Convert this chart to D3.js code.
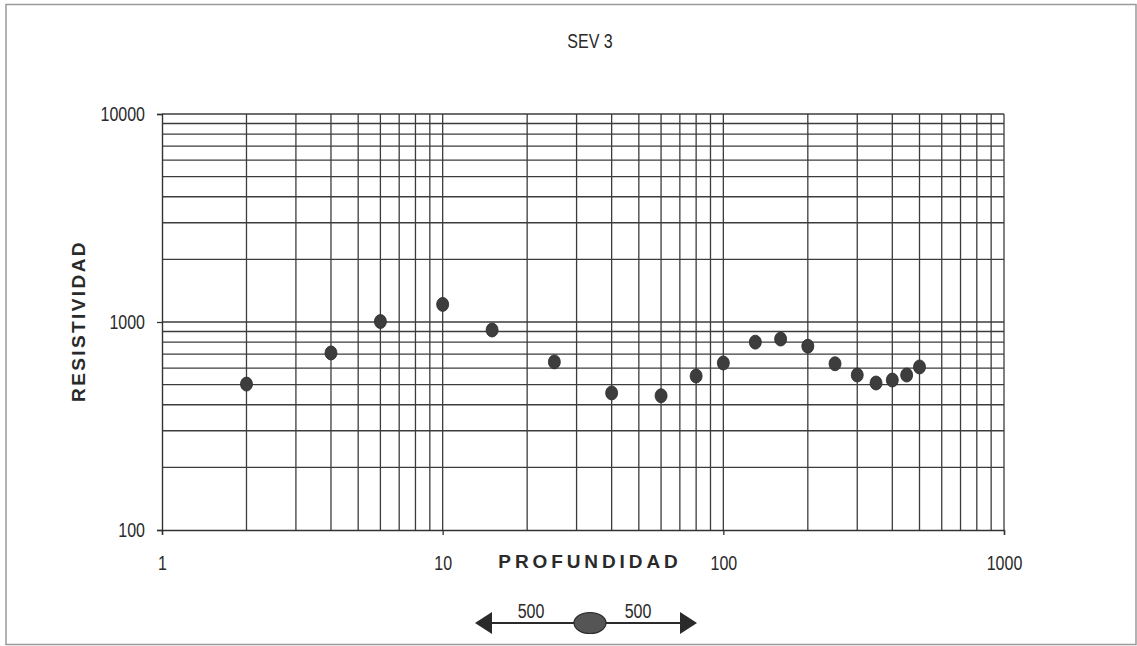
<!DOCTYPE html>
<html>
<head>
<meta charset="utf-8">
<script src="https://cdn.jsdelivr.net/npm/d3@7"></script>
<style>
  html, body { margin: 0; padding: 0; background: #fff; }
  svg { display: block; }
  text { fill: #2a2a2a; font-family: "Liberation Sans", Arial, sans-serif; }
  .bold { font-weight: bold; }
</style>
</head>
<body>
<svg id="chart" width="1137" height="646"></svg>
<script>
// Vertical electrical sounding SEV 3: apparent resistivity vs. depth
const depth = [2, 4, 6, 10, 15, 25, 40, 60, 80, 100, 130, 160, 200, 250, 300, 350, 400, 450, 500];
const resistivity = [503, 710, 1005, 1215, 915, 643, 456, 442, 550, 635, 800, 828, 765, 630, 556, 509, 526, 556, 608];

const xTickLabels = [1, 10, 100, 1000];
const yTickLabels = [100, 1000, 10000];
const spreadLabels = ["500", "500"];

const svg = d3.select("#chart");
const W = 1137, H = 646;
const plot = { left: 162, right: 1004, top: 114, bottom: 530 };
const NARROW = 0.8;   // horizontal squeeze for the condensed label face
const LABEL_PX = "20px";

// outer frame
svg.append("rect")
  .attr("x", 6).attr("y", 4.5).attr("width", W - 7).attr("height", 640)
  .attr("fill", "none").attr("stroke", "#9a9a9a").attr("stroke-width", 1.5);

const x = d3.scaleLog().domain([1, 1000]).range([plot.left, plot.right]);
const y = d3.scaleLog().domain([100, 10000]).range([plot.bottom, plot.top]);

// minor + major grid values (1..9 per decade)
const xGrid = [];
for (let d = 1; d < 1000; d *= 10) for (let k = 1; k <= 9; k++) xGrid.push(d * k);
xGrid.push(1000);
const yGrid = [];
for (let d = 100; d < 10000; d *= 10) for (let k = 1; k <= 9; k++) yGrid.push(d * k);
yGrid.push(10000);

const grid = svg.append("g").attr("stroke", "#3c3c3c").attr("stroke-width", 1.3);
grid.selectAll("line.v").data(xGrid.filter(v => v > 1)).join("line")
  .attr("x1", d => x(d)).attr("x2", d => x(d))
  .attr("y1", plot.top).attr("y2", plot.bottom);
grid.selectAll("line.h").data(yGrid.filter(v => v > 100)).join("line")
  .attr("x1", plot.left).attr("x2", plot.right)
  .attr("y1", d => y(d)).attr("y2", d => y(d));

// condensed text: squeeze horizontally while keeping the anchor point fixed
function narrowText(sel) {
  sel.each(function () {
    const t = d3.select(this);
    const tx = +t.attr("x") || 0;
    t.attr("x", tx / NARROW).attr("transform", `scale(${NARROW},1)`)
      .style("font-size", LABEL_PX);
  });
}

// axes
function styleAxis(g) {
  g.attr("font-size", null).attr("font-family", null);
  g.select(".domain").attr("stroke", "#333").attr("stroke-width", 1.4);
  g.selectAll(".tick line").attr("stroke", "#333").attr("stroke-width", 1.3);
  g.selectAll(".tick text").style("fill", "#2a2a2a").call(narrowText);
}
const xAxis = d3.axisBottom(x).tickValues(xTickLabels).tickFormat(d3.format("d"))
  .tickSize(5).tickPadding(21);
svg.append("g").attr("transform", `translate(0,${plot.bottom})`).call(xAxis).call(styleAxis);

const yAxis = d3.axisLeft(y).tickValues(yTickLabels).tickFormat(d3.format("d"))
  .tickSize(5).tickPadding(12);
svg.append("g").attr("transform", `translate(${plot.left},0)`).call(yAxis).call(styleAxis);

// data points
svg.append("g").selectAll("ellipse").data(depth).join("ellipse")
  .attr("cx", d => x(d))
  .attr("cy", (d, i) => y(resistivity[i]))
  .attr("rx", 6).attr("ry", 7)
  .attr("fill", "#3d3d3d").attr("stroke", "#2a2a2a").attr("stroke-width", 0.8);

// titles
svg.append("text").attr("x", 590).attr("y", 48)
  .attr("text-anchor", "middle").text("SEV 3").call(narrowText);

svg.append("text").attr("class", "bold").attr("x", 590).attr("y", 568)
  .attr("text-anchor", "middle").style("font-size", "19px").attr("letter-spacing", 3.9)
  .text("PROFUNDIDAD");

svg.append("text").attr("class", "bold").attr("transform", "translate(85,321) rotate(-90)")
  .attr("text-anchor", "middle").style("font-size", "19px")
  .attr("letter-spacing", 2.4).text("RESISTIVIDAD");

// electrode spread symbol
const sy = 623;
const leg = svg.append("g");
leg.append("line").attr("x1", 485).attr("x2", 688).attr("y1", sy).attr("y2", sy)
  .attr("stroke", "#2a2a2a").attr("stroke-width", 2.2);
leg.append("path").attr("d", `M475,${sy} L492,${sy - 11} L492,${sy + 11} Z`).attr("fill", "#2a2a2a");
leg.append("path").attr("d", `M697,${sy} L680,${sy - 11} L680,${sy + 11} Z`).attr("fill", "#2a2a2a");
leg.append("ellipse").attr("cx", 590).attr("cy", sy).attr("rx", 16).attr("ry", 10.5)
  .attr("fill", "#555").attr("stroke", "#2a2a2a").attr("stroke-width", 1.2);
leg.selectAll("text").data(spreadLabels).join("text")
  .attr("x", (d, i) => i === 0 ? 531 : 638).attr("y", 618)
  .attr("text-anchor", "middle")
  .text(d => d).call(narrowText);
</script>
</body>
</html>
